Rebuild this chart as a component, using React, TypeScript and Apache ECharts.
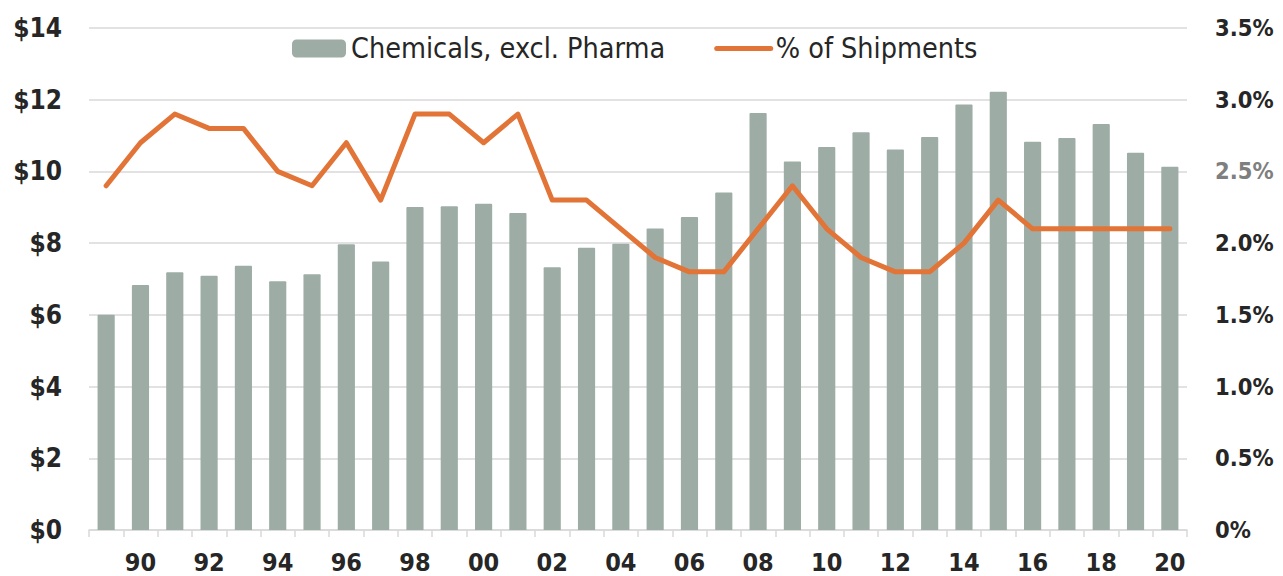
import React, { useEffect, useRef } from "react";
import * as echarts from "echarts";

const categories = [
  "89", "90", "91", "92", "93", "94", "95", "96", "97", "98", "99",
  "00", "01", "02", "03", "04", "05", "06", "07", "08", "09", "10",
  "11", "12", "13", "14", "15", "16", "17", "18", "19", "20",
];

const chemicalsValues = [
  6.0, 6.83, 7.19, 7.09, 7.37, 6.94, 7.13, 7.97, 7.49, 9.01, 9.03,
  9.1, 8.84, 7.33, 7.87, 7.98, 8.41, 8.73, 9.41, 11.63, 10.28, 10.68,
  11.09, 10.61, 10.96, 11.87, 12.22, 10.83, 10.93, 11.32, 10.52, 10.13,
];

const shipmentsPct = [
  2.4, 2.7, 2.9, 2.8, 2.8, 2.5, 2.4, 2.7, 2.3, 2.9, 2.9,
  2.7, 2.9, 2.3, 2.3, 2.1, 1.9, 1.8, 1.8, 2.1, 2.4, 2.1,
  1.9, 1.8, 1.8, 2.0, 2.3, 2.1, 2.1, 2.1, 2.1, 2.1,
];

const leftTicks = { min: 0, max: 14, interval: 2 };
const rightTicks = { min: 0, max: 3.5, interval: 0.5 };

const FONT = "'DejaVu Sans Condensed', 'DejaVu Sans', sans-serif";
const BAR_COLOR = "#9DADA5";
const LINE_COLOR = "#E17436";
const GRID_COLOR = "#D9D9D9";
const TEXT_COLOR = "#262626";

export default function App() {
  const ref = useRef<HTMLDivElement>(null);

  useEffect(() => {
    if (!ref.current) return;
    const chart = echarts.init(ref.current, undefined, { renderer: "svg" });
    chart.setOption({
      animation: false,
      backgroundColor: "#ffffff",
      grid: { left: 89, right: 96, top: 28, bottom: 46, containLabel: false },
      legend: {
        left: 292,
        top: 34,
        padding: 0,
        itemWidth: 54,
        itemHeight: 18,
        itemGap: 49,
        textStyle: { fontFamily: FONT, fontSize: 28.5, color: TEXT_COLOR },
        data: [
          { name: "Chemicals, excl. Pharma", icon: "roundRect" },
          {
            name: "% of Shipments",
            itemStyle: { opacity: 0 },
            lineStyle: { width: 5, cap: "round", color: LINE_COLOR },
          },
        ],
      },
      xAxis: {
        type: "category",
        data: categories,
        boundaryGap: true,
        axisLine: { show: true, lineStyle: { color: GRID_COLOR, width: 1.5 } },
        axisTick: {
          show: true,
          interval: 0,
          length: 7,
          lineStyle: { color: GRID_COLOR, width: 1.5 },
        },
        axisLabel: {
          interval: (index: number) => index % 2 === 1,
          margin: 20,
          fontFamily: FONT,
          fontSize: 25,
          fontWeight: "bold",
          color: TEXT_COLOR,
        },
      },
      yAxis: [
        {
          type: "value",
          min: leftTicks.min,
          max: leftTicks.max,
          interval: leftTicks.interval,
          axisLine: { show: false },
          axisTick: { show: false },
          splitLine: { show: true, lineStyle: { color: GRID_COLOR, width: 1.5 } },
          axisLabel: {
            margin: 27,
            fontFamily: FONT,
            fontSize: 26,
            fontWeight: "bold",
            color: TEXT_COLOR,
            formatter: (v: number) => "$" + v,
          },
        },
        {
          type: "value",
          min: rightTicks.min,
          max: rightTicks.max,
          interval: rightTicks.interval,
          axisLine: { show: false },
          axisTick: { show: false },
          splitLine: { show: false },
          axisLabel: {
            margin: 28,
            fontFamily: FONT,
            fontSize: 23.5,
            fontWeight: "bold",
            color: (v: any) => (Math.abs(Number(v) - 2.5) < 1e-6 ? "#7F7F7F" : TEXT_COLOR),
            formatter: (v: number) => (v === 0 ? "0%" : v.toFixed(1) + "%"),
          },
        },
      ],
      series: [
        {
          name: "Chemicals, excl. Pharma",
          type: "bar",
          data: chemicalsValues,
          barWidth: "50%",
          itemStyle: { color: BAR_COLOR, borderRadius: [1, 1, 0, 0] },
          yAxisIndex: 0,
        },
        {
          name: "% of Shipments",
          type: "line",
          data: shipmentsPct,
          yAxisIndex: 1,
          symbol: "none",
          showSymbol: false,
          smooth: false,
          lineStyle: { color: LINE_COLOR, width: 5, cap: "round", join: "round" },
          itemStyle: { color: LINE_COLOR },
          z: 3,
        },
      ],
    });
    return () => chart.dispose();
  }, []);

  return (
    <div
      ref={ref}
      style={{ position: "fixed", left: 0, top: 0, width: 1283, height: 576 }}
    />
  );
}
